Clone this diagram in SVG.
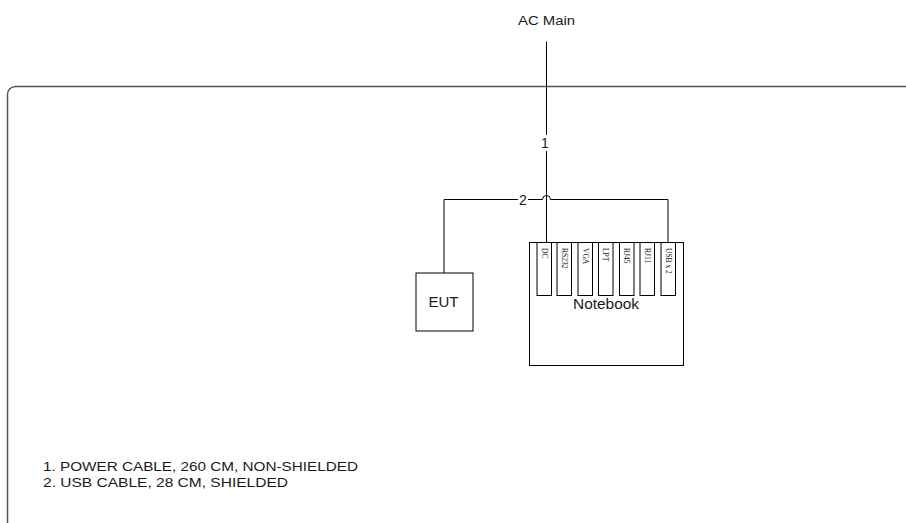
<svg xmlns="http://www.w3.org/2000/svg" width="906" height="523" viewBox="0 0 906 523">
<style>
.t{font-family:"Liberation Sans",Arial,sans-serif;fill:#1a1a1a}
.p{font-family:"Liberation Serif","Times New Roman",serif;font-size:7.5px;fill:#111}
.box{fill:#fff;stroke:#000;stroke-width:1}
.w{fill:none;stroke:#000;stroke-width:1}
</style>
<rect width="906" height="523" fill="#fff"/>
<path d="M7.5 530 V94.5 A8 8 0 0 1 15.5 86.5 H910" fill="none" stroke="#555" stroke-width="1.5"/>
<g id="connectors">
<path class="w" d="M546.5 41.5 V135 M546.5 151 V242"/>
<path class="w" d="M444 273 V199.5 H518 M528 199.5 H542.5 A4 4 0 0 1 550.5 199.5 H668 V242"/>
<text class="t" x="545" y="147.5" font-size="14" text-anchor="middle">1</text>
<text class="t" x="523" y="204.5" font-size="14" text-anchor="middle">2</text>
</g>
<g id="ac-main">
<text class="t" x="546.5" y="25" font-size="13.5" text-anchor="middle" textLength="57" lengthAdjust="spacingAndGlyphs">AC Main</text>
</g>
<g id="eut">
<rect class="box" x="416" y="273" width="57" height="58"/>
<text class="t" x="443.5" y="307" font-size="15" text-anchor="middle">EUT</text>
</g>
<g id="notebook">
<rect class="box" x="529.5" y="242.5" width="154" height="123"/>
<rect class="box" x="537" y="242.5" width="14.5" height="53"/>
<rect class="box" x="557" y="242.5" width="14.5" height="53"/>
<rect class="box" x="578" y="242.5" width="14.5" height="53"/>
<rect class="box" x="598.5" y="242.5" width="14.5" height="53"/>
<rect class="box" x="619.5" y="242.5" width="14.5" height="53"/>
<rect class="box" x="640" y="242.5" width="14.5" height="53"/>
<rect class="box" x="661" y="242.5" width="14.5" height="53"/>
<text class="p" transform="translate(541.6 248) rotate(90)">DC</text>
<text class="p" transform="translate(561.6 248) rotate(90)">RS232</text>
<text class="p" transform="translate(582.6 248) rotate(90)">VGA</text>
<text class="p" transform="translate(603.1 248) rotate(90)">LPT</text>
<text class="p" transform="translate(624.1 248) rotate(90)">RJ45</text>
<text class="p" transform="translate(644.6 248) rotate(90)">RJ11</text>
<text class="p" transform="translate(665.6 248) rotate(90)">USB x 2</text>
<text class="t" x="606" y="309" font-size="14.5" text-anchor="middle" textLength="66" lengthAdjust="spacingAndGlyphs">Notebook</text>
</g>
<g id="notes">
<text class="t" x="43" y="471" font-size="13.5" textLength="315" lengthAdjust="spacingAndGlyphs">1. POWER CABLE, 260 CM, NON-SHIELDED</text>
<text class="t" x="43" y="487" font-size="13.5" textLength="245" lengthAdjust="spacingAndGlyphs">2. USB CABLE, 28 CM, SHIELDED</text>
</g>
</svg>
